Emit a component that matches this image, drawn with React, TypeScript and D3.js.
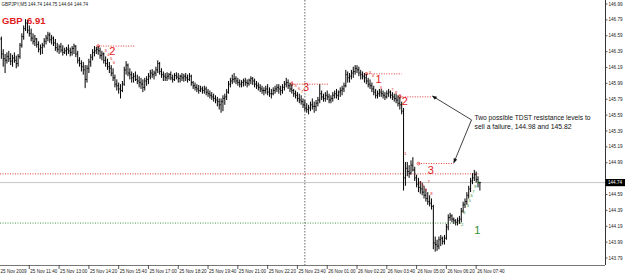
import React from "react";
import * as d3 from "d3";

// ---- Data (GBPJPY M5, 25 Nov 2009 10:20 -> 26 Nov 2009 07:50) ----
const highs = [
  146.67,146.58,146.42,146.36,146.38,146.40,146.37,146.35,146.38,146.34,
  146.36,146.50,146.62,146.72,146.80,146.79,146.72,146.68,146.62,146.60,
  146.56,146.52,146.48,146.50,146.56,146.60,146.64,146.63,146.60,146.58,
  146.55,146.50,146.48,146.50,146.47,146.44,146.45,146.48,146.44,146.46,
  146.49,146.47,146.40,146.32,146.28,146.26,146.22,146.22,146.30,146.36,
  146.42,146.46,146.45,146.46,146.44,146.40,146.38,146.33,146.30,146.26,
  146.22,146.18,146.10,146.04,146.00,145.98,146.02,146.20,146.27,146.24,
  146.18,146.14,146.12,146.14,146.10,146.08,146.06,146.04,146.06,146.08,
  146.12,146.16,146.17,146.15,146.20,146.28,146.26,146.18,146.14,146.12,
  146.13,146.12,146.14,146.10,146.12,146.13,146.12,146.10,146.12,146.11,
  146.12,146.10,146.12,146.10,146.02,146.00,145.98,145.97,145.96,145.95,
  145.96,145.95,145.92,145.90,145.88,145.86,145.84,145.82,145.80,145.80,
  145.84,145.86,145.92,146.02,146.06,146.10,146.12,146.08,146.06,146.04,
  146.03,146.05,146.06,146.04,146.05,146.08,146.07,146.05,146.02,146.00,
  145.98,145.96,145.94,145.96,145.98,145.94,145.92,145.94,145.96,145.98,
  145.98,145.96,145.98,146.02,146.06,146.04,146.00,145.98,145.92,145.90,
  145.88,145.86,145.84,145.80,145.78,145.74,145.72,145.76,145.80,145.76,
  145.78,145.82,145.98,145.90,145.86,145.88,145.90,145.86,145.84,145.88,
  145.90,145.92,145.90,145.94,145.96,146.00,146.16,146.14,146.12,146.16,
  146.20,146.22,146.22,146.20,146.16,146.14,146.12,146.11,146.06,146.04,
  146.00,145.96,145.92,145.90,145.92,145.92,145.90,145.88,145.90,145.92,
  145.90,145.88,145.86,145.86,145.84,145.82,145.76,145.68,145.00,145.00,
  144.96,145.02,145.06,144.94,144.84,144.80,144.76,144.74,144.70,144.66,
  144.62,144.58,144.54,144.46,144.06,144.02,144.06,144.08,144.06,144.08,
  144.22,144.34,144.36,144.34,144.30,144.28,144.30,144.32,144.42,144.50,
  144.54,144.62,144.70,144.80,144.86,144.90,144.88,144.82,144.75,
];
const lows = [
  146.49,146.30,146.20,146.12,146.24,146.26,146.22,146.20,146.25,146.18,
  146.20,146.30,146.44,146.54,146.65,146.62,146.58,146.52,146.48,146.46,
  146.44,146.38,146.35,146.36,146.44,146.48,146.52,146.50,146.48,146.46,
  146.40,146.38,146.36,146.38,146.34,146.36,146.34,146.36,146.33,146.34,
  146.36,146.32,146.24,146.20,146.14,146.10,145.93,146.00,146.12,146.20,
  146.28,146.33,146.36,146.35,146.30,146.28,146.24,146.20,146.16,146.12,
  146.08,146.02,145.94,145.90,145.86,145.80,145.88,145.96,146.10,146.08,
  146.04,146.00,146.00,146.02,145.98,145.94,145.92,145.88,145.90,145.96,
  145.98,146.04,146.06,146.04,146.08,146.12,146.10,146.06,146.02,146.02,
  146.02,146.04,146.03,146.00,146.02,146.04,146.00,146.00,146.02,146.01,
  146.02,146.00,146.02,145.96,145.92,145.90,145.88,145.86,145.88,145.86,
  145.86,145.84,145.82,145.80,145.78,145.76,145.74,145.70,145.66,145.62,
  145.64,145.72,145.78,145.86,145.94,145.98,146.00,145.98,145.96,145.94,
  145.94,145.95,145.96,145.94,145.96,145.98,145.97,145.94,145.92,145.90,
  145.88,145.86,145.84,145.86,145.84,145.82,145.80,145.84,145.86,145.88,
  145.86,145.84,145.86,145.90,145.94,145.92,145.88,145.86,145.82,145.80,
  145.76,145.74,145.72,145.68,145.64,145.62,145.60,145.64,145.66,145.62,
  145.64,145.70,145.74,145.78,145.76,145.76,145.78,145.74,145.74,145.76,
  145.80,145.80,145.78,145.82,145.84,145.88,145.94,146.00,146.00,146.04,
  146.06,146.10,146.12,146.08,146.04,146.04,146.00,145.98,145.94,145.92,
  145.88,145.84,145.80,145.80,145.82,145.82,145.80,145.78,145.80,145.82,
  145.80,145.78,145.76,145.74,145.70,145.66,145.60,144.64,144.70,144.82,
  144.80,144.84,144.88,144.76,144.68,144.62,144.60,144.58,144.54,144.50,
  144.46,144.44,144.40,143.90,143.87,143.88,143.90,143.94,143.96,143.96,
  144.02,144.14,144.26,144.24,144.22,144.20,144.20,144.22,144.24,144.36,
  144.42,144.46,144.54,144.62,144.72,144.76,144.74,144.68,144.64,
];
const closes = [
  146.55,146.36,146.30,146.28,146.33,146.30,146.27,146.31,146.28,146.24,
  146.33,146.47,146.58,146.68,146.75,146.66,146.62,146.56,146.52,146.55,
  146.48,146.42,146.44,146.47,146.52,146.56,146.60,146.54,146.56,146.50,
  146.44,146.42,146.45,146.41,146.38,146.40,146.42,146.40,146.38,146.43,
  146.46,146.36,146.28,146.24,146.20,146.16,146.04,146.18,146.26,146.32,
  146.38,146.40,146.42,146.40,146.34,146.36,146.28,146.24,146.20,146.18,
  146.12,146.06,145.98,145.96,145.92,145.90,145.98,146.16,146.22,146.12,
  146.10,146.06,146.08,146.04,146.02,146.00,145.98,145.94,146.02,146.04,
  146.08,146.12,146.10,146.12,146.16,146.24,146.14,146.10,146.08,146.06,
  146.08,146.10,146.06,146.04,146.09,146.07,146.05,146.08,146.06,146.08,
  146.06,146.04,146.08,146.00,145.96,145.94,145.92,145.90,145.92,145.90,
  145.92,145.88,145.86,145.84,145.82,145.80,145.78,145.76,145.72,145.76,
  145.80,145.82,145.88,145.98,146.02,146.04,146.05,146.02,146.00,145.98,
  146.00,146.02,146.00,145.99,146.03,146.05,146.02,145.98,145.96,145.94,
  145.92,145.90,145.90,145.92,145.88,145.86,145.86,145.90,145.92,145.94,
  145.92,145.90,145.94,145.98,146.00,145.96,145.92,145.90,145.86,145.84,
  145.80,145.78,145.76,145.72,145.68,145.66,145.68,145.72,145.70,145.70,
  145.74,145.78,145.86,145.82,145.80,145.84,145.82,145.78,145.80,145.84,
  145.86,145.84,145.88,145.90,145.92,145.96,146.10,146.06,146.08,146.12,
  146.14,146.18,146.16,146.12,146.10,146.08,146.06,146.02,145.98,145.96,
  145.92,145.88,145.84,145.86,145.88,145.86,145.84,145.82,145.86,145.88,
  145.84,145.82,145.80,145.78,145.74,145.72,145.64,144.80,144.92,144.88,
  144.86,144.96,144.90,144.80,144.72,144.68,144.66,144.62,144.58,144.54,
  144.50,144.48,144.44,143.98,143.96,143.94,144.02,144.04,144.00,144.04,
  144.18,144.30,144.32,144.28,144.26,144.24,144.26,144.28,144.38,144.46,
  144.50,144.58,144.66,144.76,144.80,144.84,144.78,144.74,144.74,
];
const firstOpen = 146.62;

const timeLabels = [
  "25 Nov 2009", "25 Nov 11:40", "25 Nov 13:00", "25 Nov 14:20", "25 Nov 15:40",
  "25 Nov 17:00", "25 Nov 18:20", "25 Nov 19:40", "25 Nov 21:00", "25 Nov 22:20",
  "25 Nov 23:40", "26 Nov 01:00", "26 Nov 02:20", "26 Nov 03:40", "26 Nov 05:00",
  "26 Nov 06:20", "26 Nov 07:40",
];
const barsPerLabel = 16;
const priceTicks = [
  146.99, 146.79, 146.59, 146.39, 146.19, 145.99, 145.79, 145.59, 145.39,
  145.19, 144.99, 144.79, 144.59, 144.39, 144.19, 143.99, 143.79,
];
const currentPrice = 144.74;
const headerText = "GBPJPY,M5  144.74 144.75 144.64 144.74";
const daySeparatorBar = 164;

// TDST-style resistance levels (red dotted, short)
const redLevelFrom = [53, 157, 197, 215, 225];
const redLevelTo = [73, 177, 216, 232, 244];
const redLevelValue = [146.46, 145.98, 146.11, 145.82, 144.98];
// long support/resistance lines
const longRedLevel = 144.85;
const longGreenLevel = 144.23;
const longGreenEnd = 248;

// Big count labels
const bigRedBar = [59, 163, 202, 216, 230];
const bigRedPrice = [146.35, 145.89, 146.0, 145.72, 144.85];
const bigRedText = ["2", "3", "1", "2", "3"];
const bigGreenBar = [255];
const bigGreenPrice = [144.09];
const bigGreenText = ["1"];

// Small setup counts
const smallRedBar = [57, 58.5, 60, 61.5, 157, 159, 161, 162.5, 199, 200.5, 205, 211, 213, 215, 218, 226, 227.5, 229, 230.5, 232];
const smallRedPrice = [146.39, 146.33, 146.28, 146.23, 145.98, 145.94, 145.91, 145.87, 146.11, 146.07, 145.92, 145.89, 145.86, 145.82, 145.09, 144.72, 144.68, 144.63, 144.73, 144.58];
const smallRedText = ["3", "4", "5", "6", "4", "5", "6", "7", "3", "4", "5", "7", "8", "9", "1", "4", "5", "6", "7", "8"];
const smallGreenBar = [248, 249, 251, 252, 253, 254, 255, 256.5];
const smallGreenPrice = [144.19, 144.34, 144.43, 144.5, 144.56, 144.61, 144.67, 144.72];
const smallGreenText = ["2", "3", "4", "5", "6", "7", "8", "9"];

const noteLines = ["Two possible TDST resistance levels to", "sell a failure, 144.98 and 145.82"];
const noteAnchorBar = 253.5;
const noteAnchorPrice = 145.53;
const arrowTargetBar = [232.5, 244];
const arrowTargetPrice = [145.83, 144.99];

const W = 625;
const H = 276;
const plotRight = 605;
const plotBottom = 265;
const RED = "#e0201c";
const GREEN = "#2f8f2f";
const axisFont = "'Liberation Sans', Arial, sans-serif";

export default function App() {
  const n = highs.length;
  const step = 1.862;
  const x = d3.scaleLinear().domain([0, n - 1]).range([-0.5, -0.5 + step * (n - 1)]);
  const y = d3.scaleLinear().domain([146.99, 143.79]).range([4, 258]);

  const barPath = highs
    .map((h, i) => {
      const l = lows[i];
      const c = closes[i];
      const oRaw = i === 0 ? firstOpen : closes[i - 1];
      const o = Math.max(l, Math.min(h, oRaw));
      const xi = x(i);
      return `M${xi},${y(h)}V${y(l)}M${xi - 0.8},${y(o)}H${xi}M${xi},${y(c)}H${xi + 0.8}`;
    })
    .join("");

  const curY = y(currentPrice);
  const [ax, ay] = [x(noteAnchorBar), y(noteAnchorPrice)];

  return (
    <svg
      width={W}
      height={H}
      viewBox={`0 0 ${W} ${H}`}
      style={{ position: "fixed", left: 0, top: 0, background: "#fff" }}
    >
      <defs>
        <clipPath id="plot">
          <rect x={0} y={0} width={plotRight} height={plotBottom} />
        </clipPath>
        <marker id="arr" viewBox="0 0 10 10" refX={9} refY={5} markerWidth={6} markerHeight={6} orient="auto">
          <path d="M0,1L10,5L0,9z" fill="#111" />
        </marker>
      </defs>
      <rect x={0} y={0} width={W} height={H} fill="#fff" />

      <g clipPath="url(#plot)">
        {/* day separator */}
        <line
          x1={x(daySeparatorBar)}
          x2={x(daySeparatorBar)}
          y1={0}
          y2={plotBottom}
          stroke="#444"
          strokeWidth={0.8}
          strokeDasharray="1.5,1.5"
        />
        {/* current price line */}
        <line x1={0} x2={plotRight} y1={curY} y2={curY} stroke="#c4c4c4" strokeWidth={1} />
        {/* long levels */}
        <line x1={0} x2={x(n - 1)} y1={y(longRedLevel)} y2={y(longRedLevel)} stroke={RED} strokeWidth={0.9} strokeDasharray="1,1.5" />
        <line x1={0} x2={x(longGreenEnd)} y1={y(longGreenLevel)} y2={y(longGreenLevel)} stroke={GREEN} strokeWidth={0.9} strokeDasharray="1,1.5" />
        {/* short red levels */}
        {redLevelFrom.map((f, k) => (
          <g key={`rl${k}`}>
            <line
              x1={x(f)}
              x2={x(redLevelTo[k])}
              y1={y(redLevelValue[k])}
              y2={y(redLevelValue[k])}
              stroke={RED}
              strokeWidth={0.9}
              strokeDasharray="1,1.5"
            />
            <circle cx={x(f)} cy={y(redLevelValue[k])} r={1.4} fill="none" stroke={RED} strokeWidth={0.7} />
          </g>
        ))}

        {/* bars */}
        <path d={barPath} stroke="#000" strokeWidth={1} fill="none" />

        {/* small counts */}
        {smallRedBar.map((b, k) => (
          <text key={`sr${k}`} x={x(b)} y={y(smallRedPrice[k])} fontSize={4.2} fill={RED} fontFamily={axisFont} textAnchor="middle">
            {smallRedText[k]}
          </text>
        ))}
        {smallGreenBar.map((b, k) => (
          <text key={`sg${k}`} x={x(b) + 1} y={y(smallGreenPrice[k])} fontSize={4.2} fill={GREEN} fontFamily={axisFont} textAnchor="middle">
            {smallGreenText[k]}
          </text>
        ))}
        {/* big counts */}
        {bigRedBar.map((b, k) => (
          <text key={`br${k}`} x={x(b)} y={y(bigRedPrice[k])} fontSize={11} fill={RED} fontFamily={axisFont}>
            {bigRedText[k]}
          </text>
        ))}
        {bigGreenBar.map((b, k) => (
          <text key={`bg${k}`} x={x(b)} y={y(bigGreenPrice[k])} fontSize={11} fill={GREEN} fontFamily={axisFont}>
            {bigGreenText[k]}
          </text>
        ))}

        {/* annotation arrows */}
        {arrowTargetBar.map((b, k) => (
          <line
            key={`ar${k}`}
            x1={ax}
            y1={ay}
            x2={x(b)}
            y2={y(arrowTargetPrice[k])}
            stroke="#111"
            strokeWidth={0.8}
            markerEnd="url(#arr)"
          />
        ))}
        <text x={ax + 3} y={ay} fontSize={7.4} fill="#111" fontFamily={axisFont} textLength={116} lengthAdjust="spacingAndGlyphs">
          {noteLines[0]}
        </text>
        <text x={ax + 3} y={ay + 9} fontSize={7.4} fill="#111" fontFamily={axisFont} textLength={97} lengthAdjust="spacingAndGlyphs">
          {noteLines[1]}
        </text>

        {/* header */}
        <text x={1.5} y={5.5} fontSize={4.6} fill="#222" fontFamily={axisFont}>
          {headerText}
        </text>
        <text x={2} y={23.5} fontSize={9.5} fontWeight="bold" fill={RED} fontFamily={axisFont}>
          GBP
        </text>
        <text x={27} y={23.5} fontSize={9.5} fontWeight="bold" fill={RED} fontFamily={axisFont}>
          6.91
        </text>
      </g>

      {/* axes */}
      <line x1={plotRight + 0.5} x2={plotRight + 0.5} y1={0} y2={plotBottom} stroke="#333" strokeWidth={1} />
      <line x1={0} x2={plotRight} y1={plotBottom + 0.5} y2={plotBottom + 0.5} stroke="#777" strokeWidth={1} />
      {priceTicks
        .filter((p) => Math.abs(y(p) - curY) > 6)
        .map((p) => (
          <g key={`pt${p}`}>
            <line x1={plotRight} x2={plotRight + 2.5} y1={y(p)} y2={y(p)} stroke="#333" strokeWidth={0.8} />
            <text x={plotRight + 3.5} y={y(p) + 1.6} fontSize={4.6} fill="#222" fontFamily={axisFont}>
              {p.toFixed(2)}
            </text>
          </g>
        ))}
      <rect x={plotRight + 0.5} y={curY - 3.6} width={19.5} height={7.2} fill="#000" />
      <text x={plotRight + 3} y={curY + 1.6} fontSize={4.6} fill="#fff" fontFamily={axisFont}>
        {currentPrice.toFixed(2)}
      </text>
      {timeLabels.map((t, k) => {
        const xi = x(k * barsPerLabel);
        return (
          <g key={`tl${k}`}>
            {k > 0 && <line x1={xi} x2={xi} y1={plotBottom} y2={plotBottom + 4} stroke="#333" strokeWidth={0.8} />}
            <text x={Math.max(0.5, xi + 1)} y={273} fontSize={4.6} fill="#222" fontFamily={axisFont}>
              {t}
            </text>
          </g>
        );
      })}
    </svg>
  );
}
